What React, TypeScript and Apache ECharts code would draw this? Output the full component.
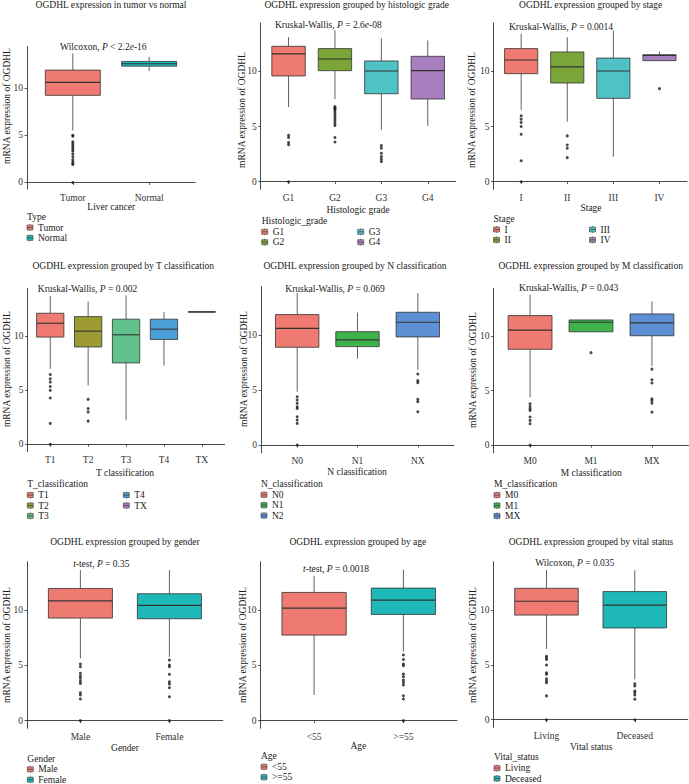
import React, { useEffect, useRef } from "react";
import * as echarts from "echarts";

// ---------------- DATA ----------------
// box values: [lower whisker, Q1, median, Q3, upper whisker]
const tumorCats = ["Tumor", "Normal"];
const tumorBoxes = [
  [5.5, 9.23, 10.6, 11.9, 13.66],
  [11.8, 12.32, 12.58, 12.82, 13.3],
];
const tumorOutliers = [
  [5.0, 4.9, 4.3, 4.1, 3.9, 3.7, 3.5, 3.3, 3.0, 2.7, 2.4, 2.2, 2.0, 1.9, 0.0],
  [],
];

const gradeCats = ["G1", "G2", "G3", "G4"];
const gradeBoxes = [
  [6.76, 9.58, 11.58, 12.27, 13.1],
  [7.48, 10.06, 11.12, 12.06, 13.7],
  [4.7, 7.97, 10.03, 10.94, 13.0],
  [5.06, 7.49, 10.06, 11.36, 12.8],
];
const gradeOutliers = [
  [4.2, 4.0, 3.55, 3.35, 0.0],
  [6.8, 6.7, 6.6, 6.5, 6.3, 6.1, 5.9, 5.7, 5.5, 5.3, 5.1, 4.0, 3.6],
  [3.27, 3.03, 2.57, 2.27, 2.03, 1.82],
  [],
];

const stageCats = ["I", "II", "III", "IV"];
const stageBoxes = [
  [6.5, 9.79, 11.03, 12.06, 13.4],
  [5.45, 8.94, 10.4, 11.76, 13.1],
  [2.27, 7.55, 10.03, 11.2, 13.7],
  [10.97, 10.97, 11.45, 11.5, 11.8],
];
const stageOutliers = [
  [5.97, 5.67, 5.36, 5.0, 4.3, 1.9, 0.0],
  [4.15, 3.33, 3.03, 2.18],
  [],
  [8.43],
];

const tCats = ["T1", "T2", "T3", "T4", "TX"];
const tBoxes = [
  [6.95, 9.88, 11.16, 12.08, 13.66],
  [5.43, 8.97, 10.43, 11.77, 13.14],
  [2.22, 7.5, 10.09, 11.53, 13.72],
  [7.25, 9.66, 10.61, 11.53, 12.2],
  [12.2, 12.2, 12.2, 12.2, 12.2],
];
const tOutliers = [
  [6.43, 6.03, 5.73, 5.33, 4.97, 4.26, 1.92, 0.0],
  [4.14, 3.29, 2.98, 2.13],
  [],
  [],
  [],
];

const nCats = ["N0", "N1", "NX"];
const nLegend = ["N0", "N1", "N2"];
const nBoxes = [
  [4.85, 8.88, 10.6, 11.85, 13.8],
  [7.85, 8.94, 9.55, 10.3, 12.03],
  [6.82, 9.82, 11.15, 12.06, 13.8],
];
const nOutliers = [
  [4.39, 4.09, 3.79, 3.48, 3.33, 2.58, 2.27, 1.97, 0.0],
  [],
  [6.45, 5.85, 5.67, 4.15, 3.94, 3.03],
];

const mCats = ["M0", "M1", "MX"];
const mBoxes = [
  [4.39, 8.79, 10.55, 11.88, 13.8],
  [10.39, 10.39, 11.27, 11.48, 11.48],
  [7.27, 10.03, 11.21, 12.03, 13.18],
];
const mOutliers = [
  [3.79, 3.55, 3.33, 3.18, 2.58, 2.27, 1.97, 0.0],
  [8.48],
  [6.97, 6.0, 5.7, 4.24, 4.09, 3.85, 3.03],
];

const genderCats = ["Male", "Female"];
const genderBoxes = [
  [5.63, 9.28, 10.84, 11.96, 13.61],
  [5.78, 9.22, 10.43, 11.48, 13.61],
];
const genderOutliers = [
  [5.12, 4.88, 4.28, 4.04, 3.83, 3.58, 3.37, 2.52, 2.32, 1.96, 0.0],
  [5.48, 5.03, 4.88, 4.19, 3.52, 3.31, 2.98, 2.17, 0.0],
];

const ageCats = ["<55", ">=55"];
const ageBoxes = [
  [2.32, 7.74, 10.18, 11.6, 13.1],
  [6.26, 9.61, 10.9, 11.99, 13.67],
];
const ageOutliers = [
  [],
  [5.94, 5.54, 5.12, 4.97, 4.21, 3.97, 3.67, 3.46, 3.22, 2.26, 1.96, 0.0],
];

const vitalCats = ["Living", "Deceased"];
const vitalBoxes = [
  [6.44, 9.52, 10.78, 11.96, 13.61],
  [3.67, 8.35, 10.43, 11.66, 13.61],
];
const vitalOutliers = [
  [5.78, 5.63, 5.48, 4.97, 4.28, 4.13, 3.73, 3.52, 3.37, 2.17, 0.0],
  [3.28, 3.07, 2.62, 2.47, 2.26, 1.87, 0.0],
];

const yTicks = [0, 5, 10];
const yTitle = "mRNA expression of OGDHL";

const titles = [
  "OGDHL expression in tumor vs normal",
  "OGDHL expression grouped by histologic grade",
  "OGDHL expression grouped by stage",
  "OGDHL expression grouped by T classification",
  "OGDHL expression grouped by N classification",
  "OGDHL expression grouped by M classification",
  "OGDHL expression grouped by gender",
  "OGDHL expression grouped by age",
  "OGDHL expression grouped by vital status",
];
// *x* = italic
const notes = [
  "Wilcoxon, *P* < 2.2*e*-16",
  "Kruskal-Wallis, *P* = 2.6*e*-08",
  "Kruskal-Wallis, *P* = 0.0014",
  "Kruskal-Wallis, *P* = 0.002",
  "Kruskal-Wallis, *P* = 0.069",
  "Kruskal-Wallis, *P* = 0.043",
  "*t*-test, *P* = 0.35",
  "*t*-test, *P* = 0.0018",
  "Wilcoxon, *P* = 0.035",
];
const xTitles = [
  "Liver cancer",
  "Histologic grade",
  "Stage",
  "T classification",
  "N classification",
  "M classification",
  "Gender",
  "Age",
  "Vital status",
];
const legendTitles = [
  "Type",
  "Histologic_grade",
  "Stage",
  "T_classification",
  "N_classification",
  "M_classification",
  "Gender",
  "Age",
  "Vital_status",
];

// ---------------- STYLE / LAYOUT ----------------
const pal2 = ["#EF7A72", "#1FB8B8"];
const pal3 = ["#EF7A72", "#3DB34A", "#5C8FD4"];
const pal4 = ["#EF7A72", "#7BA536", "#4FC2C6", "#A77EBE"];
const pal5 = ["#EF7A72", "#9E9B33", "#62C28C", "#4B9ED7", "#B07BC2"];

const FONT = '"Liberation Serif", "DejaVu Serif", serif';
const FS = 9.5;
const Y_MIN = -0.69;
const Y_MAX = 14.38;

const panels = [
  { cats: tumorCats, boxes: tumorBoxes, outs: tumorOutliers, colors: pal2, legend: tumorCats },
  { cats: gradeCats, boxes: gradeBoxes, outs: gradeOutliers, colors: pal4, legend: gradeCats },
  { cats: stageCats, boxes: stageBoxes, outs: stageOutliers, colors: pal4, legend: stageCats },
  { cats: tCats, boxes: tBoxes, outs: tOutliers, colors: pal5, legend: tCats },
  { cats: nCats, boxes: nBoxes, outs: nOutliers, colors: pal3, legend: nLegend },
  { cats: mCats, boxes: mBoxes, outs: mOutliers, colors: pal3, legend: mCats },
  { cats: genderCats, boxes: genderBoxes, outs: genderOutliers, colors: pal2, legend: genderCats },
  { cats: ageCats, boxes: ageBoxes, outs: ageOutliers, colors: pal2, legend: ageCats },
  { cats: vitalCats, boxes: vitalBoxes, outs: vitalOutliers, colors: pal2, legend: vitalCats },
];

const layouts = [
  { grid: [27, 46.7, 168, 142.3], title: [111, 4.5], note: [103.3, 46.7], xt: [111.2, 206.7], yt: [7.3, 106], lg: [27, 216.7], rows: 2 },
  { grid: [260.7, 23, 194.9, 166.3], title: [356.7, 4.5], note: [328.3, 25], xt: [358, 209.7], yt: [241.7, 110], lg: [261.7, 221], rows: 2 },
  { grid: [493.5, 23, 193.6, 166.3], title: [590.7, 4.5], note: [561, 26.7], xt: [591, 207.7], yt: [471.7, 110], lg: [493.5, 218.7], rows: 2 },
  { grid: [27.5, 288.3, 197.1, 163.4], title: [123.3, 265.7], note: [87.5, 289], xt: [125, 473.3], yt: [7.3, 369.2], lg: [27.3, 484.3], rows: 3 },
  { grid: [261, 286.7, 193, 166], title: [355, 265.7], note: [335, 289], xt: [357, 471.7], yt: [244, 369], lg: [261, 484], rows: 3 },
  { grid: [493.5, 288.3, 195, 164.4], title: [590.7, 265.7], note: [568.7, 288.3], xt: [591.2, 473.3], yt: [473, 370], lg: [494, 484.3], rows: 3 },
  { grid: [27, 561.7, 195.8, 166.6], title: [125, 541.7], note: [101.3, 564.3], xt: [125, 747.7], yt: [6.7, 645], lg: [27.3, 758.5], rows: 2 },
  { grid: [260.5, 561.7, 196.5, 166.6], title: [357.8, 541.7], note: [336, 569.3], xt: [358.3, 746], yt: [243.3, 645], lg: [261, 756], rows: 2 },
  { grid: [493.5, 561.7, 194.3, 165.6], title: [591, 541.7], note: [574.8, 563.3], xt: [591.2, 746.7], yt: [473, 645], lg: [494, 757.3], rows: 2 },
];

function richText(s: string) {
  return s
    .split("*")
    .map((seg, i) => (seg === "" ? "" : `{${i % 2 ? "i" : "n"}|${seg}}`))
    .join("");
}

const richStyles = {
  n: { fontFamily: FONT, fontSize: FS, fill: "#1a1a1a" },
  i: { fontFamily: FONT, fontSize: FS, fontStyle: "italic", fill: "#1a1a1a" },
};

function textEl(x: number, y: number, text: string, align = "center", rotation = 0, color = "#1a1a1a") {
  return {
    type: "text",
    x,
    y,
    rotation,
    silent: true,
    style: {
      text,
      fontFamily: FONT,
      fontSize: FS,
      fill: color,
      align,
      verticalAlign: "middle",
    },
  };
}

function buildOption() {
  const grid: any[] = [];
  const xAxis: any[] = [];
  const yAxis: any[] = [];
  const series: any[] = [];
  const graphic: any[] = [];

  panels.forEach((p, i) => {
    const L = layouts[i];
    const n = p.cats.length;
    grid.push({ left: L.grid[0], top: L.grid[1], width: L.grid[2], height: L.grid[3], containLabel: false });
    const idx = p.cats.map((_, k) => k + 1);
    xAxis.push({
      type: "value",
      gridIndex: i,
      min: 0.4,
      max: n + 0.6,
      splitLine: { show: false },
      axisLine: { show: true, lineStyle: { color: "#333", width: 0.9 } },
      axisTick: { show: true, length: 2.5, customValues: idx, lineStyle: { color: "#333", width: 0.8 } },
      axisLabel: {
        customValues: idx,
        margin: 3.5,
        color: "#333",
        fontFamily: FONT,
        fontSize: FS,
        formatter: (v: number) => p.cats[Math.round(v) - 1] ?? "",
      },
    });
    yAxis.push({
      type: "value",
      gridIndex: i,
      min: Y_MIN,
      max: Y_MAX,
      splitLine: { show: false },
      axisLine: { show: true, lineStyle: { color: "#333", width: 0.9 } },
      axisTick: { show: true, length: 2.5, customValues: yTicks, lineStyle: { color: "#333", width: 0.8 } },
      axisLabel: {
        customValues: yTicks,
        margin: 4,
        color: "#333",
        fontFamily: FONT,
        fontSize: FS,
      },
    });

    const colors = p.colors;
    series.push({
      type: "custom",
      xAxisIndex: i,
      yAxisIndex: i,
      encode: { x: 0, y: [1, 2, 3, 4, 5] },
      data: p.boxes.map((b, k) => [k + 1, ...b]),
      renderItem: (params: any, api: any) => {
        const x = api.value(0);
        const lo = api.coord([x, api.value(1)]);
        const q1 = api.coord([x, api.value(2)]);
        const med = api.coord([x, api.value(3)]);
        const q3 = api.coord([x, api.value(4)]);
        const hi = api.coord([x, api.value(5)]);
        const left = api.coord([x - 0.36, api.value(2)])[0];
        const right = api.coord([x + 0.36, api.value(2)])[0];
        const cx = lo[0];
        const color = colors[params.dataIndex];
        const ls = { stroke: "#3a3a3a", lineWidth: 0.8 };
        return {
          type: "group",
          children: [
            { type: "line", shape: { x1: cx, y1: hi[1], x2: cx, y2: q3[1] }, style: ls },
            { type: "line", shape: { x1: cx, y1: q1[1], x2: cx, y2: lo[1] }, style: ls },
            {
              type: "rect",
              shape: { x: left, y: q3[1], width: right - left, height: q1[1] - q3[1] },
              style: { fill: color, stroke: "#333", lineWidth: 0.8 },
            },
            { type: "line", shape: { x1: left, y1: med[1], x2: right, y2: med[1] }, style: { stroke: "#333", lineWidth: 1.1 } },
          ],
        };
      },
      z: 2,
    });

    const pts: number[][] = [];
    p.outs.forEach((arr, k) => arr.forEach((v) => pts.push([k + 1, v])));
    series.push({
      type: "scatter",
      xAxisIndex: i,
      yAxisIndex: i,
      data: pts,
      symbol: "circle",
      symbolSize: 3,
      itemStyle: { color: "#1a1a1a" },
      silent: true,
      z: 3,
    });

    // texts
    graphic.push(textEl(L.title[0], L.title[1], titles[i]));
    graphic.push({
      type: "text",
      x: L.note[0],
      y: L.note[1],
      silent: true,
      style: {
        text: richText(notes[i]),
        rich: richStyles,
        fontFamily: FONT,
        fontSize: FS,
        align: "center",
        verticalAlign: "middle",
      },
    });
    graphic.push(textEl(L.xt[0], L.xt[1], xTitles[i]));
    graphic.push(textEl(L.yt[0], L.yt[1], yTitle, "center", Math.PI / 2));

    // legend
    const [lx, ly] = L.lg;
    graphic.push(textEl(lx, ly, legendTitles[i], "left"));
    const rows = p.legend.length <= 3 ? p.legend.length : L.rows;
    p.legend.forEach((name, k) => {
      const col = Math.floor(k / rows);
      const row = k % rows;
      const kx = lx + col * 96;
      const ky = ly + 10.8 + row * 10.4;
      graphic.push({
        type: "line",
        silent: true,
        shape: { x1: kx + 3, y1: ky - 3.5, x2: kx + 3, y2: ky + 3.5 },
        style: { stroke: "#444", lineWidth: 0.7 },
      });
      graphic.push({
        type: "rect",
        silent: true,
        shape: { x: kx, y: ky - 2.5, width: 6, height: 5 },
        style: { fill: p.colors[k], stroke: "#444", lineWidth: 0.6 },
      });
      graphic.push({
        type: "line",
        silent: true,
        shape: { x1: kx, y1: ky, x2: kx + 6, y2: ky },
        style: { stroke: "#444", lineWidth: 0.8 },
      });
      graphic.push(textEl(kx + 11, ky, name, "left"));
    });
  });

  return {
    animation: false,
    backgroundColor: "#ffffff",
    grid,
    xAxis,
    yAxis,
    series,
    graphic: { elements: graphic },
  };
}

export default function App() {
  const ref = useRef<HTMLDivElement>(null);
  useEffect(() => {
    if (!ref.current) return;
    const chart = echarts.init(ref.current, undefined, { renderer: "svg" });
    chart.setOption(buildOption() as any);
    return () => chart.dispose();
  }, []);
  return (
    <div
      ref={ref}
      style={{ position: "absolute", left: 0, top: 0, width: 689, height: 784, background: "#fff" }}
    />
  );
}
